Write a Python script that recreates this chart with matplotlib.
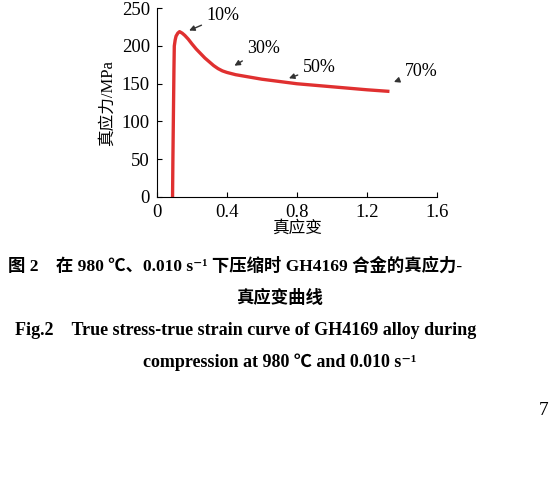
import matplotlib
matplotlib.use("Agg")
import matplotlib.pyplot as plt

strain = [0.09, 0.092, 0.095, 0.098, 0.1, 0.105, 0.11, 0.12, 0.13, 0.145, 0.16, 0.18, 0.2, 0.225, 0.25, 0.275, 0.3, 0.325, 0.35, 0.375, 0.4, 0.45, 0.5, 0.6, 0.7, 0.8, 0.9, 1.0, 1.1, 1.2, 1.32]
stress = [0, 50, 110, 170, 200, 208, 213, 217, 219, 217, 214, 209, 203, 196, 190, 184, 179, 174, 170, 167, 165, 162, 160, 156, 153, 150, 148, 146, 144, 142, 140]
labels = ["10%", "30%", "50%", "70%"]
label_xy = [(0.38, 240), (0.61, 197), (0.93, 172), (1.51, 166)]
tip_xy = [(0.17, 219), (0.43, 172), (0.74, 156), (1.34, 151)]

fam = ['Liberation Serif', 'Noto Sans CJK SC', 'DejaVu Serif']
fig = plt.figure(figsize=(5.6, 4.84), dpi=100)
ax = fig.add_axes([0.28, 0.593, 0.50, 0.39])
ax.plot(strain, stress, color='#e03030', lw=2.4)
for l, t, p in zip(labels, label_xy, tip_xy):
    ax.annotate(l, xy=p, xytext=t, ha='center', va='center', fontsize=13, family=fam,
                arrowprops=dict(arrowstyle='-|>', color='#333', lw=1, mutation_scale=8))
ax.set_xlim(0, 1.6)
ax.set_ylim(0, 250)
ax.set_xticks([0, 0.4, 0.8, 1.2, 1.6])
ax.set_xticklabels(['0', '0.4', '0.8', '1.2', '1.6'])
ax.set_yticks([0, 50, 100, 150, 200, 250])
for s in ['top', 'right']:
    ax.spines[s].set_visible(False)
ax.tick_params(direction='in', labelsize=13.5, pad=5)
for t in ax.get_xticklabels() + ax.get_yticklabels():
    t.set_family(fam)
ax.set_xlabel('真应变', fontsize=12, family=fam, labelpad=0)
ax.set_ylabel('真应力/MPa', fontsize=12, family=fam, labelpad=4)

fig.text(0.015, 0.45, '图 2\u2003在 980 ℃、0.010 s⁻¹ 下压缩时 GH4169 合金的真应力-', fontsize=12.5, weight='bold', family=fam, va='center')
fig.text(0.5, 0.384, '真应变曲线', fontsize=12.5, weight='bold', family=fam, va='center', ha='center')
fig.text(0.027, 0.318, 'Fig.2\u2003True stress-true strain curve of GH4169 alloy during', fontsize=13, weight='bold', family=fam, va='center')
fig.text(0.5, 0.252, 'compression at 980 ℃ and 0.010 s⁻¹', fontsize=13, weight='bold', family=fam, va='center', ha='center')
fig.text(0.97, 0.152, '7', fontsize=14, family=fam, va='center', ha='center')
fig.savefig('out.png', dpi=100)
